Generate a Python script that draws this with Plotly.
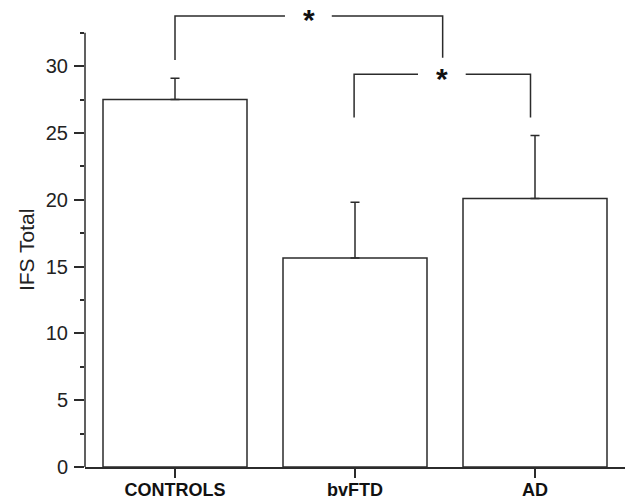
import plotly.graph_objects as go

# ---- data ----
categories = ["CONTROLS", "bvFTD", "AD"]
means = [27.5, 15.65, 20.1]
sem_up = [1.6, 4.17, 4.7]

y_ticks = [0, 5, 10, 15, 20, 25, 30]
y_tick_labels = ["0", "5", "10", "15", "20", "25", "30"]
y_minor_ticks = [2.5, 7.5, 12.5, 17.5, 22.5, 27.5, 32.5]

# significance brackets (x in category units, y in IFS units)
bracket1_left_x = [0.0, 0.0, 0.611]
bracket1_left_y = [30.45, 33.76, 33.76]
bracket1_right_x = [0.871, 1.487, 1.487]
bracket1_right_y = [33.76, 33.76, 30.62]
star1_x, star1_y = 0.742, 33.76

bracket2_left_x = [0.995, 0.995, 1.35]
bracket2_left_y = [26.15, 29.4, 29.4]
bracket2_right_x = [1.615, 1.975, 1.975]
bracket2_right_y = [29.4, 29.4, 26.15]
star2_x, star2_y = 1.483, 29.4

axis_top = 32.5
line_col = "#2b2b2b"
font_fam = "Liberation Sans, Arial, sans-serif"

fig = go.Figure()
fig.add_trace(go.Bar(
    x=[0, 1, 2], y=means, width=0.8,
    marker=dict(color="white", line=dict(color=line_col, width=1.5)),
    error_y=dict(type="data", symmetric=False, array=sem_up,
                 arrayminus=[0, 0, 0], color=line_col, thickness=1.5, width=4.5),
    showlegend=False, hoverinfo="skip",
))

for bx, by in [(bracket1_left_x, bracket1_left_y), (bracket1_right_x, bracket1_right_y),
               (bracket2_left_x, bracket2_left_y), (bracket2_right_x, bracket2_right_y)]:
    fig.add_trace(go.Scatter(x=bx, y=by, mode="lines",
                             line=dict(color=line_col, width=1.5),
                             showlegend=False, hoverinfo="skip"))

for sx, sy in [(star1_x, star1_y), (star2_x, star2_y)]:
    fig.add_annotation(x=sx, y=sy, text="<b>*</b>", showarrow=False,
                       font=dict(size=30, color="#111", family=font_fam),
                       xanchor="center", yanchor="middle", yshift=-4)

# y axis title, centred on the drawn axis
fig.add_annotation(xref="paper", yref="y", x=-0.107, y=axis_top / 2, text="IFS Total",
                   textangle=-90, showarrow=False, xanchor="center", yanchor="middle",
                   font=dict(size=21, family=font_fam, color="#222"))

# y axis line (only up to axis_top)
fig.add_shape(type="line", xref="paper", yref="y", x0=0, x1=0, y0=0, y1=axis_top,
              line=dict(color=line_col, width=1.5))

fig.update_layout(
    width=625, height=500,
    margin=dict(l=85, r=0, t=6, b=27),
    plot_bgcolor="white", paper_bgcolor="white",
    font=dict(family=font_fam, color="#222"),
    bargap=0.2,
)
fig.update_xaxes(
    range=[-0.5, 2.5], tickmode="array", tickvals=[0, 1, 2],
    ticktext=["<b>%s</b>" % c for c in categories],
    tickfont=dict(size=18, family=font_fam, color="#111"),
    showline=True, linecolor=line_col, linewidth=1.5,
    ticks="", ticklabelstandoff=6,
    minor=dict(tickmode="array", tickvals=[0, 1, 2], ticks="outside",
               ticklen=9, tickwidth=1.5, tickcolor=line_col),
    showgrid=False, zeroline=False,
)
fig.update_yaxes(
    range=[0, 34.5], tickmode="array", tickvals=y_ticks, ticktext=y_tick_labels,
    tickfont=dict(size=20, family=font_fam, color="#222"),
    showline=False, ticks="outside", ticklen=10, tickwidth=1.5, tickcolor=line_col,
    minor=dict(tickmode="array", tickvals=y_minor_ticks,
               ticks="outside", ticklen=4, tickwidth=1.5, tickcolor=line_col),
    showgrid=False, zeroline=False, ticklabelstandoff=2,
)

fig.write_html("out.html", config={"displayModeBar": False},
               post_script="document.body.style.margin='0';document.body.style.overflow='hidden';")
